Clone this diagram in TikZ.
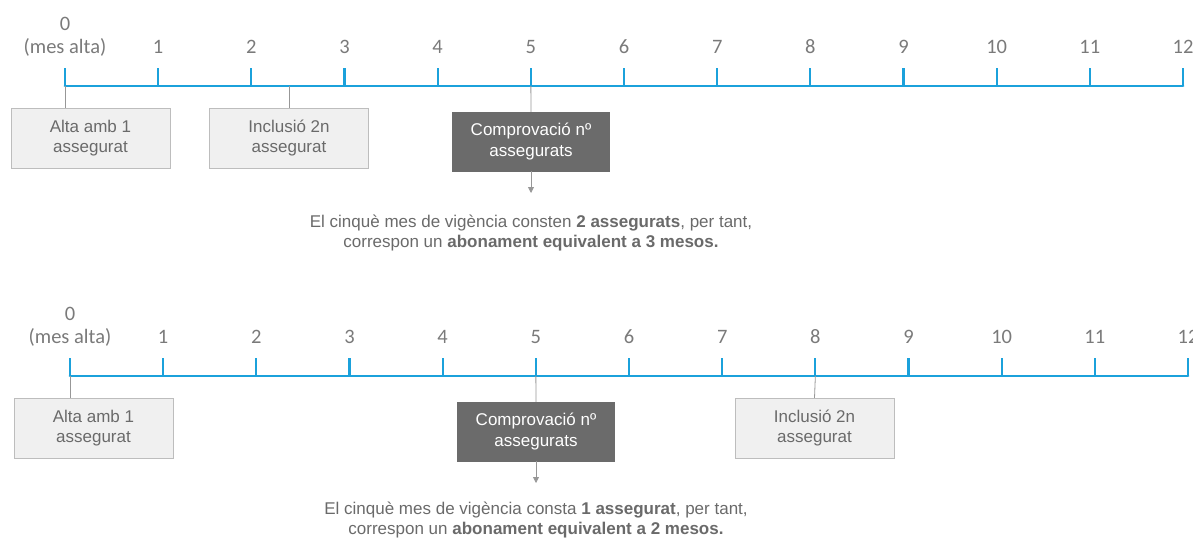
\documentclass[tikz,border=0pt]{standalone}
\usepackage{fontspec}
\setmainfont{Liberation Sans}
\newfontfamily\numfont{Carlito}
\usetikzlibrary{arrows.meta}

\definecolor{eixblau}{HTML}{1BA1DB}
\definecolor{textgris}{HTML}{6A6A6A}
\definecolor{numgris}{HTML}{7A7A7A}
\definecolor{caixagris}{HTML}{F0F0F0}
\definecolor{voragris}{HTML}{BDBDBD}
\definecolor{caixafosca}{HTML}{6B6B6B}

\tikzset{
  eix/.style={draw=eixblau, line width=2.8pt, line cap=round},
  marca/.style={draw=eixblau, line width=2.2pt},
  mes/.style={font=\numfont\fontsize{20.5}{23}\selectfont, text=numgris, anchor=base, inner sep=0pt, align=center},
  fet/.style={draw=voragris, fill=caixagris, text=textgris, minimum width=159pt, minimum height=60pt,
    align=center, font=\fontsize{17}{19.5}\selectfont, inner sep=0pt},
  control/.style={draw=caixafosca, fill=caixafosca, text=white, minimum width=157pt, minimum height=59pt,
    align=center, font=\fontsize{17}{20.5}\selectfont, inner sep=0pt},
  lligam/.style={draw=voragris!80!black, line width=0.8pt},
  fletxa/.style={lligam, -{Triangle[length=6pt,width=6pt]}},
  nota/.style={text=textgris, align=center, font=\fontsize{17}{20}\selectfont, inner sep=0pt, anchor=base}
}

\begin{document}
\begin{tikzpicture}[x=1pt,y=-1pt]
\useasboundingbox (0,0) rectangle (1193,538);

% primer cas
\draw[eix] (65,86) -- (1183,86);
\foreach \i in {0,...,12} {
  \coordinate (t\i) at ({65+93.17*\i},86);
  \draw[marca] (t\i) -- ++(0,-18);
}
\foreach \i in {1,...,12}
  \node[mes] (nt\i) at ({65+93.17*\i},53) {\i};
\node[mes] (nt0) at (65,53) {0\\(mes alta)};
\coordinate (inc1) at (289,86);

\node[fet] (alta1) at (90.5,138) {Alta amb 1\\assegurat};
\node[fet] (incl1) at (289,138) {Inclusió 2n\\assegurat};
\node[control] (comp1) at (531,141.5) {Comprovació nº\\assegurats};
\coordinate (fi1) at (531,193);
\draw[lligam] (t0) -- (t0 |- alta1.north);
\draw[lligam] (inc1) -- (incl1.north);
\draw[lligam] (t5) -- (comp1.north);
\draw[fletxa] (comp1.south) -- (fi1);
\node[nota] (text1) at (531,247) {El cinquè mes de vigència consten \textbf{2 assegurats}, per tant,\\
  correspon un \textbf{abonament equivalent a 3 mesos.}};

% segon cas
\draw[eix] (70,376) -- (1188,376);
\foreach \i in {0,...,12} {
  \coordinate (b\i) at ({70+93.17*\i},376);
  \draw[marca] (b\i) -- ++(0,-18);
}
\foreach \i in {1,...,12}
  \node[mes] (nb\i) at ({70+93.17*\i},343) {\i};
\node[mes] (nb0) at (70,343) {0\\(mes alta)};

\node[fet] (alta2) at (93.5,428) {Alta amb 1\\assegurat};
\node[control] (comp2) at (536,431.5) {Comprovació nº\\assegurats};
\node[fet] (incl2) at (814.5,428) {Inclusió 2n\\assegurat};
\coordinate (fi2) at (536,483);
\draw[lligam] (b0) -- (b0 |- alta2.north);
\draw[lligam] (b5) -- (comp2.north);
\draw[lligam] (b8) -- (incl2.north);
\draw[fletxa] (comp2.south) -- (fi2);
\node[nota] (text2) at (536,534) {El cinquè mes de vigència consta \textbf{1 assegurat}, per tant,\\
  correspon un \textbf{abonament equivalent a 2 mesos.}};
\end{tikzpicture}
\end{document}
